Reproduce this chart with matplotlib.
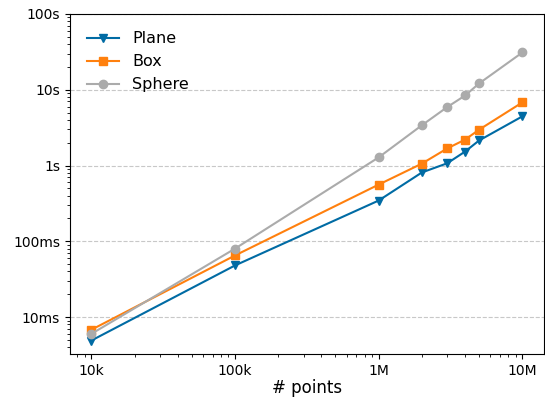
import matplotlib
matplotlib.use('Agg')
import matplotlib.pyplot as plt
from matplotlib.ticker import FuncFormatter

plt.style.use('tableau-colorblind10')

# number of points
n_points = [1e4, 1e5, 1e6, 2e6, 3e6, 4e6, 5e6, 1e7]

# timings in seconds
plane = [0.0049, 0.048, 0.345, 0.81, 1.07, 1.53, 2.14, 4.45]
box = [0.0068, 0.065, 0.56, 1.06, 1.68, 2.2, 2.97, 6.8]
sphere = [0.006, 0.08, 1.28, 3.4, 5.9, 8.4, 12.1, 31.0]


def fmt_time(v, pos):
    if v >= 1:
        return '%gs' % v
    return '%gms' % (v * 1000)


def fmt_points(v, pos):
    if v >= 1e6:
        return '%gM' % (v / 1e6)
    if v >= 1e3:
        return '%gk' % (v / 1e3)
    return '%g' % v


fig, ax = plt.subplots(figsize=(5.45, 3.98), dpi=100)
ax.plot(n_points, plane, marker='v', label='Plane')
ax.plot(n_points, box, marker='s', label='Box')
ax.plot(n_points, sphere, marker='o', label='Sphere')
ax.set_xscale('log')
ax.set_yscale('log')
ax.set_ylim(10 ** -2.49, 100)
ax.xaxis.set_major_formatter(FuncFormatter(fmt_points))
ax.yaxis.set_major_formatter(FuncFormatter(fmt_time))
ax.grid(axis='y', which='major', linestyle='--', color='#c8c8c8')
ax.set_xlabel('# points', fontsize=12, labelpad=1)
ax.legend(loc='upper left', frameon=False, fontsize=11.5, borderaxespad=0.7)
plt.subplots_adjust(left=0.128, right=0.998, top=0.965, bottom=0.11)
plt.savefig('out.png')
